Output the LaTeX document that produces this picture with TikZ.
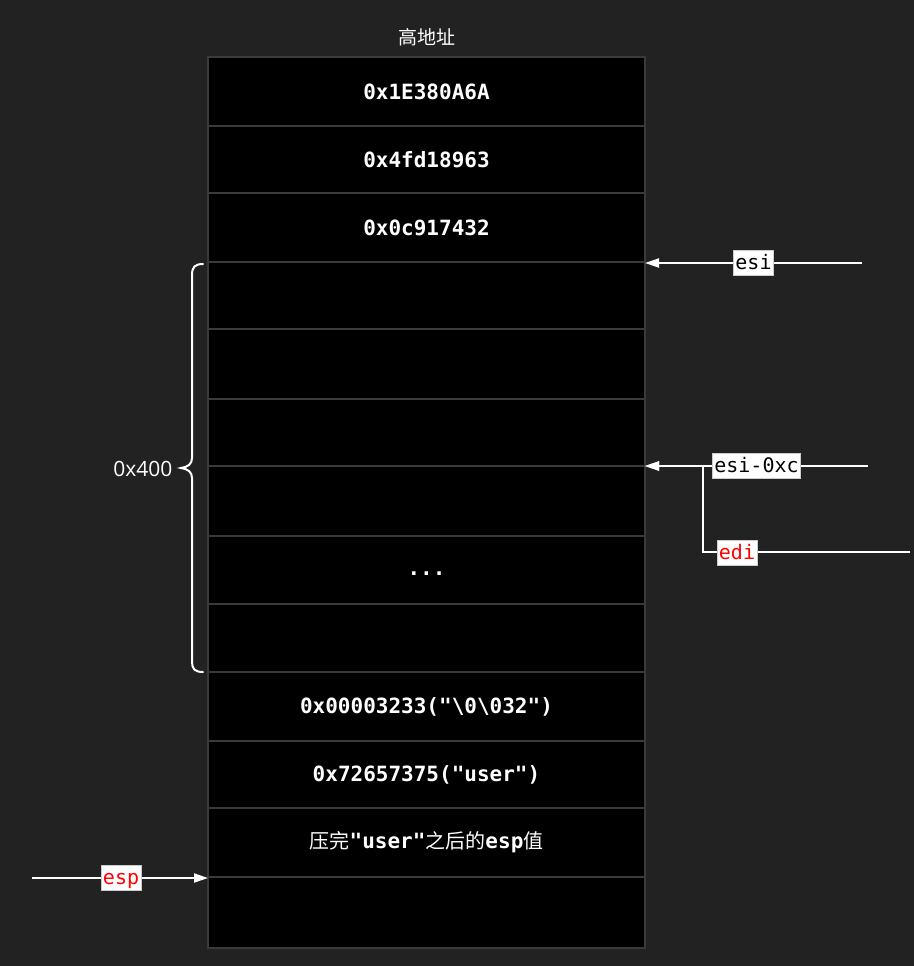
\documentclass[tikz,border=0pt]{standalone}
\usepackage{fontspec}
\setmonofont{DejaVu Sans Mono}
\newfontfamily\cjk{Noto Sans CJK SC}
\newfontfamily\uisans{Open Sans}
\usetikzlibrary{arrows.meta}
\definecolor{bgdark}{HTML}{222222}
\definecolor{cellline}{HTML}{3A3A3A}
\definecolor{labred}{HTML}{FF0000}
\begin{document}
\begin{tikzpicture}[x=1pt,y=-1pt,
  cell/.style={draw=cellline, line width=2pt, fill=black, text=white,
    minimum width=437pt, inner sep=0pt, outer sep=0pt,
    font=\ttfamily\bfseries\fontsize{21}{24}\selectfont},
  ptr/.style={draw=white, line width=2pt, -{Triangle[length=14pt,width=9pt]}},
  reglab/.style={fill=white, draw=black!20, line width=0.8pt,
    inner xsep=2pt, inner ysep=3pt, text height=16pt, text depth=3pt,
    text=black, font=\ttfamily\fontsize{20}{22}\selectfont},
  redlab/.style={reglab, text=labred}]

\fill[bgdark] (0,0) rectangle (914,966);
\useasboundingbox (0,0) rectangle (914,966);

% stack cells, top (high address) to bottom
\node[cell, minimum height=69pt] (r1)  at (426.5,91.5)  {0x1E380A6A};
\node[cell, minimum height=67pt] (r2)  at (426.5,159.5) {0x4fd18963};
\node[cell, minimum height=69pt] (r3)  at (426.5,227.5) {0x0c917432};
\node[cell, minimum height=67pt] (r4)  at (426.5,295.5) {};
\node[cell, minimum height=70pt] (r5)  at (426.5,364)   {};
\node[cell, minimum height=67pt] (r6)  at (426.5,432.5) {};
\node[cell, minimum height=70pt] (r7)  at (426.5,501)   {};
\node[cell, minimum height=68pt] (r8)  at (426.5,570)   {};
\node[cell, minimum height=68pt] (r9)  at (426.5,638)   {};
\node[cell, minimum height=69pt] (r10) at (426.5,706.5) {0x00003233("\textbackslash0\textbackslash032")};
\node[cell, minimum height=67pt] (r11) at (426.5,774.5) {0x72657375("user")};
\node[cell, minimum height=69pt] (r12) at (426.5,842.5) {{\cjk\mdseries\fontsize{20}{24}\selectfont 压完}"user"{\cjk\mdseries\fontsize{20}{24}\selectfont 之后的}esp{\cjk\mdseries\fontsize{20}{24}\selectfont 值}};
\node[cell, minimum height=71pt] (r13) at (426.5,912.5) {};
\node[text=white, font=\ttfamily\bfseries\fontsize{21}{24}\selectfont] (dots) at (426.5,574) {...};

% heading
\node[text=white, font=\cjk\fontsize{19}{22}\selectfont] (hi) at (427,37) {高地址};

% brace over the 0x400 region
\draw[white, line width=2pt, line cap=round]
  (203,264) .. controls (195,264) and (192,267) .. (192,275)
  -- (192,458) .. controls (192,464) and (188,467) .. (181,468)
  .. controls (188,469) and (192,472) .. (192,478)
  -- (192,662) .. controls (192,669) and (195,672) .. (203,672);
\node[anchor=east, text=white, font=\uisans\fontsize{21}{24}\selectfont] (size) at (176,469) {0x400};

% register pointers
\coordinate (esiS) at (862,263);
\coordinate (esicS) at (868,466);
\coordinate (ediS) at (910,552);
\coordinate (ediK) at (703,552);
\coordinate (espS) at (32,878);

\draw[ptr] (esiS) -- (r4.north east |- esiS) node[reglab, pos=0.5] (esi) {esi};
\draw[ptr] (ediS) -- (ediK) |- (r7.north east);
\node[redlab] (edi) at (737,553) {edi};
\draw[ptr] (esicS) -- (r7.north east) node[reglab, pos=0.5] (esic) {esi-0xc};
\draw[ptr] (espS) -- (r13.north west |- espS) node[redlab, pos=0.506] (esp) {esp};

\end{tikzpicture}
\end{document}
